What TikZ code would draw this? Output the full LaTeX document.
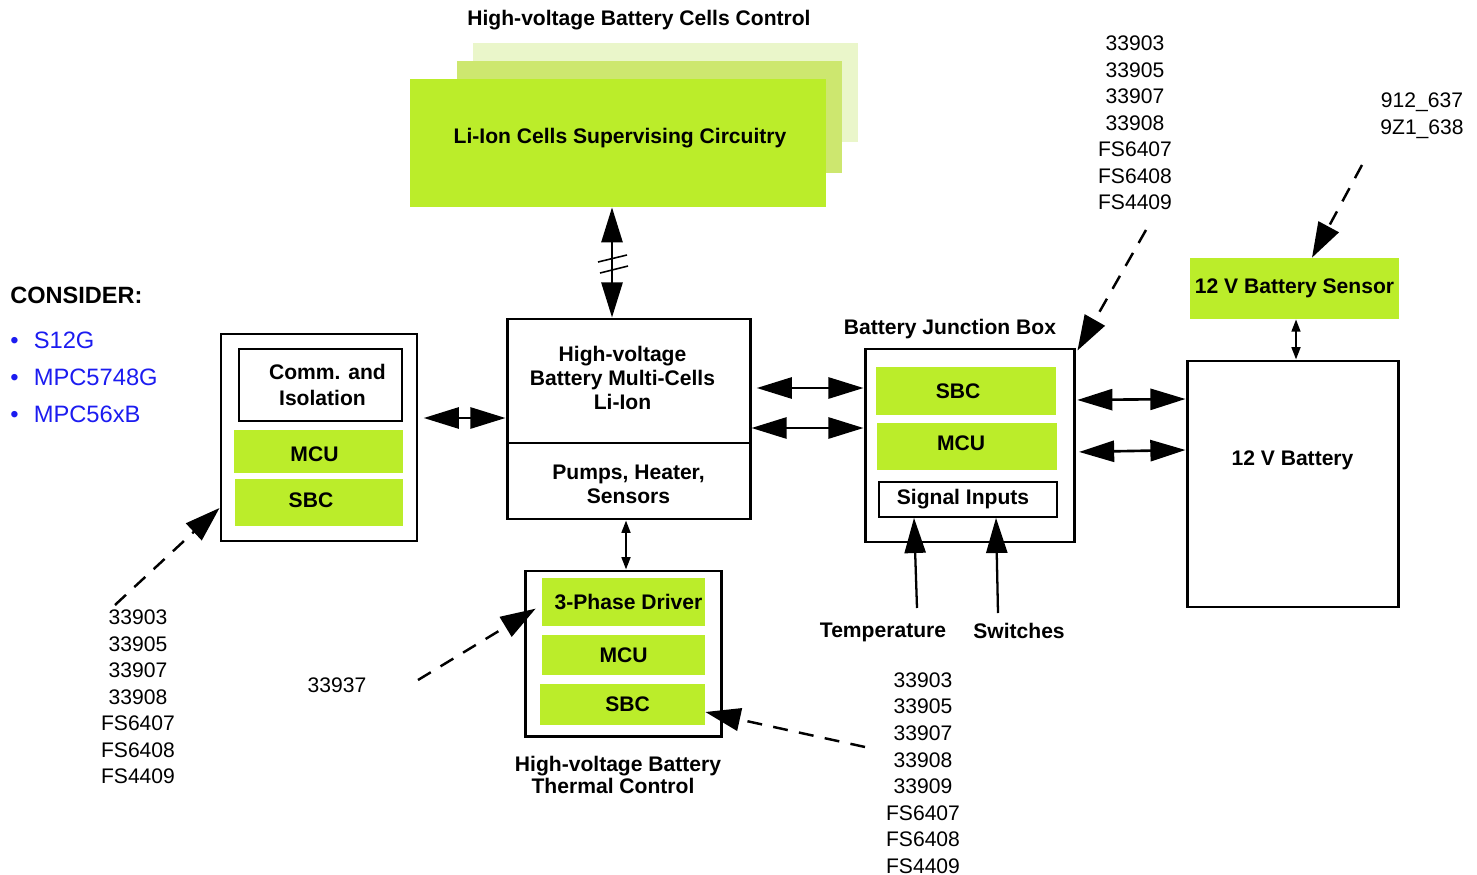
\documentclass[tikz,border=0pt]{standalone}
\usepackage{fontspec}
\setmainfont{Liberation Sans}
\usetikzlibrary{arrows.meta,fit}
\definecolor{lime}{HTML}{BBED2A}
\definecolor{limemid}{HTML}{CDE76F}
\definecolor{limelight}{HTML}{EAF6CA}
\definecolor{blueT}{HTML}{1C1CF0}
\begin{document}
\begin{tikzpicture}[x=0.02cm,y=-0.02cm,
  box/.style={draw,line width=1.7pt,inner sep=0pt},
  thinbox/.style={draw,line width=1pt,inner sep=0pt},
  limebox/.style={fill=lime,inner sep=0pt},
  lbl/.style={font=\fontsize{12}{13.6}\selectfont\bfseries,align=center,inner sep=0pt},
  num/.style={font=\fontsize{12}{15.1}\selectfont,align=center,inner sep=0pt},
  bluetxt/.style={font=\fontsize{13.5}{16}\selectfont,text=blueT,anchor=west,inner sep=0pt},
  big/.style={line width=1.5pt,{Triangle[length=20pt,width=12pt]}-{Triangle[length=20pt,width=12pt]}},
  upar/.style={line width=1.3pt,-{Triangle[length=20pt,width=12pt]}},
  small/.style={line width=1.2pt,{Triangle[length=7pt,width=5pt]}-{Triangle[length=7pt,width=5pt]}},
  dasharrow/.style={line width=1.4pt,dash pattern=on 8.5pt off 6.5pt,-{Triangle[length=20pt,width=13pt]}},
]
\useasboundingbox (0,0) rectangle (1477,875);

% ---- top: cells control
\node[lbl] (title) at (639,20) {High-voltage Battery Cells Control};
\node[fill=limelight,inner sep=0pt,fit={(473,43) (858,142)}] (back) {};
\node[fill=limemid,inner sep=0pt,fit={(457,61) (842,173)}] (mid) {};
\node[limebox,fit={(410,79) (826,207)}] (lic) {};
\node[lbl] at ([xshift=0.04cm,yshift=0.1cm]lic.center) {Li-Ion Cells Supervising Circuitry};

% ---- consider
\node[font=\fontsize{13.4}{16}\selectfont\bfseries,anchor=west,inner sep=0pt] (cons) at (10,295) {CONSIDER:};
\node[bluetxt] (b1) at (10,340) {\textbullet\hspace{8.6pt}S12G};
\node[bluetxt] (b2) at (10,377) {\textbullet\hspace{8.6pt}MPC5748G};
\node[bluetxt] (b3) at (10,414) {\textbullet\hspace{8.6pt}MPC56xB};

% ---- left box
\node[box,fit={(221,334) (417,541)}] (lb) {};
\node[thinbox,fit={(239,349) (402,421)}] (comm) {};
\node[lbl,font=\fontsize{12}{14.7}\selectfont\bfseries] at ([xshift=0.04cm]comm.center) {\hspace*{0.2cm}Comm. and\\Isolation};
\node[limebox,fit={(234,430) (403,473)}] (lmcu) {};
\node[lbl] at ([xshift=-0.08cm,yshift=-0.05cm]lmcu.center) {MCU};
\node[limebox,fit={(235,479) (403,526)}] (lsbc) {};
\node[lbl] at ([xshift=-0.16cm,yshift=0.04cm]lsbc.center) {SBC};

% ---- HV multi-cells
\node[box,fit={(507,319) (750,443)}] (hv) {};
\node[lbl] at ([xshift=-0.12cm,yshift=0.06cm]hv.center) {High-voltage\\Battery Multi-Cells\\Li-Ion};
\node[box,fit={(507,443) (750,519)}] (pump) {};
\node[lbl] at ([yshift=-0.06cm]pump.center) {Pumps, Heater,\\Sensors};

% ---- thermal
\node[box,fit={(525,571) (721,736)}] (th) {};
\node[limebox,fit={(542,578) (705,626)}] (tph) {};
\node[lbl] at ([xshift=0.1cm]tph.center) {3-Phase Driver};
\node[limebox,fit={(542,635) (705,675)}] (tmcu) {};
\node[lbl] at (tmcu.center) {MCU};
\node[limebox,fit={(540,684) (705,725)}] (tsbc) {};
\node[lbl] at ([xshift=0.1cm]tsbc.center) {SBC};
\node[lbl,font=\fontsize{12}{13}\selectfont\bfseries] (thl) at (618,775) {High-voltage Battery\\\hspace*{-0.2cm}Thermal Control};

% ---- battery junction box
\node[lbl] (bjbl) at (950,329) {Battery Junction Box};
\node[box,fit={(865,349) (1074,542)}] (bjb) {};
\node[limebox,fit={(876,367) (1056,415)}] (bsbc) {};
\node[lbl] at ([xshift=-0.16cm]bsbc.center) {SBC};
\node[limebox,fit={(877,423) (1057,470)}] (bmcu) {};
\node[lbl] at ([xshift=-0.12cm,yshift=0.06cm]bmcu.center) {MCU};
\node[thinbox,fit={(879,482) (1057,517)}] (sig) {};
\node[lbl] at ([xshift=-0.1cm]sig.center) {Signal Inputs};
\node[lbl] (temp) at (883,632) {Temperature};
\node[lbl] (sw) at (1019,631) {Switches};

% ---- 12 V
\node[limebox,fit={(1190,258) (1399,319)}] (sens) {};
\node[lbl] at (sens.center) {12 V Battery Sensor};
\node[box,fit={(1187,361) (1398,607)}] (bat) {};
\node[lbl] at ([yshift=0.48cm]bat.center) {12 V Battery};

% ---- part number lists
\node[num] (n1) at (1135,123) {33903\\33905\\33907\\33908\\FS6407\\FS6408\\FS4409};
\node[num] (n2) at (1422,116) {912\_637\\9Z1\_638};
\node[num] (n3) at (138,697) {33903\\33905\\33907\\33908\\FS6407\\FS6408\\FS4409};
\node[num] (n4) at (337,685) {33937};
\node[num] (n5) at (923,773) {33903\\33905\\33907\\33908\\33909\\FS6407\\FS6408\\FS4409};

% ---- solid connectors
\draw[big] (lic.south -| 612,0) -- (hv.north -| 612,0);
\draw[line width=0.9pt] (598,262) -- (627,255) (600,273) -- (628,266);
\draw[big,shorten <=3pt] (lb.east |- 0,418) -- (hv.west |- 0,418);
\draw[big,shorten <=3pt] (hv.east |- 0,388) -- (bjb.west |- 0,388);
\draw[big] (hv.east |- 0,428) -- (bjb.west |- 0,428);
\draw[big,shorten <=1pt] (bjb.east |- 0,400) -- (bat.west |- 0,399);
\draw[big,shorten <=2pt] (bjb.east |- 0,452) -- (bat.west |- 0,450);
\draw[small] (sens.south -| 1296,0) -- (bat.north -| 1296,0);
\draw[small] (pump.south -| 626,0) -- (th.north -| 626,0);
\coordinate (tq) at (917,608);
\coordinate (sq) at (998,613);
\draw[upar] (tq) -- (sig.south -| 914,0);
\draw[upar] (sq) -- (sig.south -| 996,0);

% ---- dashed connectors
\coordinate (d1) at (1362,165);
\coordinate (d2) at (1146,230);
\coordinate (d3) at (418,680);
\coordinate (d4) at (865,747);
\coordinate (d5) at (115,605);
\draw[dasharrow] (d1) -- (sens.north -| 1312,0);
\draw[dasharrow] (d2) -- ([xshift=0.04cm,yshift=-0.06cm]bjb.north east);
\draw[dasharrow,shorten >=4pt] (d3) -- (tph.west |- 0,605);
\draw[dasharrow] (d4) -- (tsbc.east |- 0,712);
\draw[dasharrow] (d5) -- (lb.west |- 0,508);
\end{tikzpicture}
\end{document}
